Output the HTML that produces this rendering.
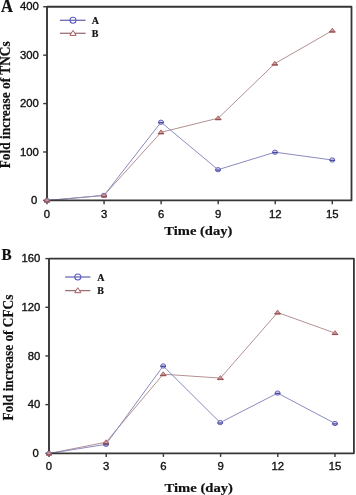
<!DOCTYPE html>
<html><head><meta charset="utf-8"><style>
html,body{margin:0;padding:0;background:#fff;width:356px;height:495px;overflow:hidden}
svg{display:block;filter:blur(0.3px)}
.tk{font-family:"Liberation Sans",sans-serif;font-size:11px;fill:#111;stroke:#111;stroke-width:0.35px}
.ttl{font-family:"Liberation Serif",serif;font-weight:bold;font-size:13.4px;fill:#111;stroke:#111;stroke-width:0.2px}
.pan{font-family:"Liberation Serif",serif;font-weight:bold;font-size:18px;fill:#111;stroke:#111;stroke-width:0.2px}
.lg{font-family:"Liberation Serif",serif;font-weight:bold;font-size:10px;fill:#111;stroke:#111;stroke-width:0.2px}
</style></head><body>
<svg width="356" height="495" viewBox="0 0 356 495">
<path d="M47 200.5 L104 195.4 L161 132.3 L218.2 118.2 L274.8 63.6 L332.3 30.6" fill="none" stroke="#b39092" stroke-width="1" stroke-linejoin="round"/>
<path d="M47 200.5 L104 195.4 L161 122.2 L218 169.7 L275 152.2 L332.3 160" fill="none" stroke="#8a8ac0" stroke-width="1" stroke-linejoin="round"/>
<path d="M47 6.75H351.5V200.4H47" fill="none" stroke="#363636" stroke-width="1.8" stroke-linejoin="round"/>
<path d="M47 6.25V200.9" stroke="#363636" stroke-width="1.9"/>
<path d="M43.2 200.4H47" stroke="#363636" stroke-width="1.4"/>
<text transform="translate(37.3 204) scale(1.03 1)" class="tk" text-anchor="end">0</text>
<path d="M43.2 151.99H47" stroke="#363636" stroke-width="1.4"/>
<text transform="translate(38.8 155.59) scale(1.03 1)" class="tk" text-anchor="end">100</text>
<path d="M43.2 103.58H47" stroke="#363636" stroke-width="1.4"/>
<text transform="translate(38.8 107.17) scale(1.03 1)" class="tk" text-anchor="end">200</text>
<path d="M43.2 55.16H47" stroke="#363636" stroke-width="1.4"/>
<text transform="translate(38.8 58.76) scale(1.03 1)" class="tk" text-anchor="end">300</text>
<path d="M43.2 6.75H47" stroke="#363636" stroke-width="1.4"/>
<text transform="translate(38.8 10.35) scale(1.03 1)" class="tk" text-anchor="end">400</text>
<path d="M47 200.4V204.2" stroke="#363636" stroke-width="1.4"/>
<text transform="translate(47 217.7) scale(1.03 1)" class="tk" text-anchor="middle">0</text>
<path d="M104.06 200.4V204.2" stroke="#363636" stroke-width="1.4"/>
<text transform="translate(104.06 217.7) scale(1.03 1)" class="tk" text-anchor="middle">3</text>
<path d="M161.12 200.4V204.2" stroke="#363636" stroke-width="1.4"/>
<text transform="translate(161.12 217.7) scale(1.03 1)" class="tk" text-anchor="middle">6</text>
<path d="M218.18 200.4V204.2" stroke="#363636" stroke-width="1.4"/>
<text transform="translate(218.18 217.7) scale(1.03 1)" class="tk" text-anchor="middle">9</text>
<path d="M275.24 200.4V204.2" stroke="#363636" stroke-width="1.4"/>
<text transform="translate(275.24 217.7) scale(1.03 1)" class="tk" text-anchor="middle">12</text>
<path d="M332.3 200.4V204.2" stroke="#363636" stroke-width="1.4"/>
<text transform="translate(332.3 217.7) scale(1.03 1)" class="tk" text-anchor="middle">15</text>
<text transform="translate(1 11.8) scale(0.92 1)" class="pan" style="font-size:18px">A</text>
<text transform="translate(9.8 168.3) rotate(-90)" class="ttl" style="font-size:14px" textLength="127" lengthAdjust="spacingAndGlyphs">Fold increase of TNCs</text>
<text x="164.3" y="234.6" class="ttl" textLength="68" lengthAdjust="spacingAndGlyphs">Time (day)</text>
<path d="M59.9 20.3H85.6" stroke="#6c6cb4" stroke-width="1.3"/>
<circle cx="73" cy="20.3" r="3" fill="none" stroke="#5c5cc4" stroke-width="1.1"/>
<path d="M59.9 33.3H85.6" stroke="#9a7276" stroke-width="1.3"/>
<path d="M73 30.4L76.1 35.4H69.9Z" fill="#fff" stroke="#a45a5e" stroke-width="1"/>
<text x="91.8" y="23.6" class="lg">A</text>
<text x="91.8" y="36.9" class="lg">B</text>
<ellipse cx="47" cy="200.5" rx="2.45" ry="2.15" fill="#d6d6ee" stroke="#6262b4" stroke-width="1"/>
<path d="M44.2 200.9H49.8" stroke="#4c4ca8" stroke-width="1.3"/>
<ellipse cx="104" cy="195.4" rx="2.45" ry="2.15" fill="#d6d6ee" stroke="#6262b4" stroke-width="1"/>
<path d="M101.2 195.8H106.8" stroke="#4c4ca8" stroke-width="1.3"/>
<ellipse cx="161" cy="122.2" rx="2.45" ry="2.15" fill="#d6d6ee" stroke="#6262b4" stroke-width="1"/>
<path d="M158.2 122.6H163.8" stroke="#4c4ca8" stroke-width="1.3"/>
<ellipse cx="218" cy="169.7" rx="2.45" ry="2.15" fill="#d6d6ee" stroke="#6262b4" stroke-width="1"/>
<path d="M215.2 170.1H220.8" stroke="#4c4ca8" stroke-width="1.3"/>
<ellipse cx="275" cy="152.2" rx="2.45" ry="2.15" fill="#d6d6ee" stroke="#6262b4" stroke-width="1"/>
<path d="M272.2 152.6H277.8" stroke="#4c4ca8" stroke-width="1.3"/>
<ellipse cx="332.3" cy="160" rx="2.45" ry="2.15" fill="#d6d6ee" stroke="#6262b4" stroke-width="1"/>
<path d="M329.5 160.4H335.1" stroke="#4c4ca8" stroke-width="1.3"/>
<path d="M47 198.1L49.9 202H44.1Z" fill="#cc9c9c" stroke="#ac6a6c" stroke-width="1" stroke-linejoin="round"/>
<path d="M44 201.8H50" stroke="#9a5052" stroke-width="1.2"/>
<path d="M104 193L106.9 196.9H101.1Z" fill="#cc9c9c" stroke="#ac6a6c" stroke-width="1" stroke-linejoin="round"/>
<path d="M101 196.7H107" stroke="#9a5052" stroke-width="1.2"/>
<path d="M161 129.9L163.9 133.8H158.1Z" fill="#cc9c9c" stroke="#ac6a6c" stroke-width="1" stroke-linejoin="round"/>
<path d="M158 133.6H164" stroke="#9a5052" stroke-width="1.2"/>
<path d="M218.2 115.8L221.1 119.7H215.3Z" fill="#cc9c9c" stroke="#ac6a6c" stroke-width="1" stroke-linejoin="round"/>
<path d="M215.2 119.5H221.2" stroke="#9a5052" stroke-width="1.2"/>
<path d="M274.8 61.2L277.7 65.1H271.9Z" fill="#cc9c9c" stroke="#ac6a6c" stroke-width="1" stroke-linejoin="round"/>
<path d="M271.8 64.9H277.8" stroke="#9a5052" stroke-width="1.2"/>
<path d="M332.3 28.2L335.2 32.1H329.4Z" fill="#cc9c9c" stroke="#ac6a6c" stroke-width="1" stroke-linejoin="round"/>
<path d="M329.3 31.9H335.3" stroke="#9a5052" stroke-width="1.2"/>
<path d="M49 453.5 L106 442.2 L163.2 374.2 L220.4 378.1 L277.6 312.5 L335 333.1" fill="none" stroke="#b39092" stroke-width="1" stroke-linejoin="round"/>
<path d="M49 453.5 L106 444.3 L163.2 366 L220.2 422.6 L277.6 393.1 L335 423.5" fill="none" stroke="#8a8ac0" stroke-width="1" stroke-linejoin="round"/>
<path d="M49 258.6H353.9V453.3H49" fill="none" stroke="#363636" stroke-width="1.8" stroke-linejoin="round"/>
<path d="M49 258.1V453.8" stroke="#363636" stroke-width="1.9"/>
<path d="M45.4 453.3H49" stroke="#363636" stroke-width="1.4"/>
<text transform="translate(38.9 456.9) scale(1.03 1)" class="tk" text-anchor="end">0</text>
<path d="M45.4 404.62H49" stroke="#363636" stroke-width="1.4"/>
<text transform="translate(40.4 408.23) scale(1.03 1)" class="tk" text-anchor="end">40</text>
<path d="M45.4 355.95H49" stroke="#363636" stroke-width="1.4"/>
<text transform="translate(40.4 359.55) scale(1.03 1)" class="tk" text-anchor="end">80</text>
<path d="M45.4 307.28H49" stroke="#363636" stroke-width="1.4"/>
<text transform="translate(40.4 310.88) scale(1.03 1)" class="tk" text-anchor="end">120</text>
<path d="M45.4 258.6H49" stroke="#363636" stroke-width="1.4"/>
<text transform="translate(40.4 262.2) scale(1.03 1)" class="tk" text-anchor="end">160</text>
<path d="M49 453.3V456.9" stroke="#363636" stroke-width="1.4"/>
<text transform="translate(49 470.3) scale(1.03 1)" class="tk" text-anchor="middle">0</text>
<path d="M106.2 453.3V456.9" stroke="#363636" stroke-width="1.4"/>
<text transform="translate(106.2 470.3) scale(1.03 1)" class="tk" text-anchor="middle">3</text>
<path d="M163.4 453.3V456.9" stroke="#363636" stroke-width="1.4"/>
<text transform="translate(163.4 470.3) scale(1.03 1)" class="tk" text-anchor="middle">6</text>
<path d="M220.6 453.3V456.9" stroke="#363636" stroke-width="1.4"/>
<text transform="translate(220.6 470.3) scale(1.03 1)" class="tk" text-anchor="middle">9</text>
<path d="M277.8 453.3V456.9" stroke="#363636" stroke-width="1.4"/>
<text transform="translate(277.8 470.3) scale(1.03 1)" class="tk" text-anchor="middle">12</text>
<path d="M335 453.3V456.9" stroke="#363636" stroke-width="1.4"/>
<text transform="translate(335 470.3) scale(1.03 1)" class="tk" text-anchor="middle">15</text>
<text transform="translate(1.6 259.8) scale(0.92 1)" class="pan" style="font-size:16.5px">B</text>
<text transform="translate(12.9 420.6) rotate(-90)" class="ttl" style="font-size:14.6px" textLength="126" lengthAdjust="spacingAndGlyphs">Fold increase of CFCs</text>
<text x="164.5" y="491.9" class="ttl" textLength="68.5" lengthAdjust="spacingAndGlyphs">Time (day)</text>
<path d="M65.1 277H90.4" stroke="#6c6cb4" stroke-width="1.3"/>
<circle cx="77.8" cy="277" r="3" fill="none" stroke="#5c5cc4" stroke-width="1.1"/>
<path d="M65.1 290.6H90.4" stroke="#9a7276" stroke-width="1.3"/>
<path d="M77.8 287.7L80.9 292.7H74.7Z" fill="#fff" stroke="#a45a5e" stroke-width="1"/>
<text x="97.3" y="280.8" class="lg">A</text>
<text x="97.3" y="293.7" class="lg">B</text>
<ellipse cx="49" cy="453.5" rx="2.45" ry="2.15" fill="#d6d6ee" stroke="#6262b4" stroke-width="1"/>
<path d="M46.2 453.9H51.8" stroke="#4c4ca8" stroke-width="1.3"/>
<ellipse cx="106" cy="444.3" rx="2.45" ry="2.15" fill="#d6d6ee" stroke="#6262b4" stroke-width="1"/>
<path d="M103.2 444.7H108.8" stroke="#4c4ca8" stroke-width="1.3"/>
<ellipse cx="163.2" cy="366" rx="2.45" ry="2.15" fill="#d6d6ee" stroke="#6262b4" stroke-width="1"/>
<path d="M160.4 366.4H166" stroke="#4c4ca8" stroke-width="1.3"/>
<ellipse cx="220.2" cy="422.6" rx="2.45" ry="2.15" fill="#d6d6ee" stroke="#6262b4" stroke-width="1"/>
<path d="M217.4 423H223" stroke="#4c4ca8" stroke-width="1.3"/>
<ellipse cx="277.6" cy="393.1" rx="2.45" ry="2.15" fill="#d6d6ee" stroke="#6262b4" stroke-width="1"/>
<path d="M274.8 393.5H280.4" stroke="#4c4ca8" stroke-width="1.3"/>
<ellipse cx="335" cy="423.5" rx="2.45" ry="2.15" fill="#d6d6ee" stroke="#6262b4" stroke-width="1"/>
<path d="M332.2 423.9H337.8" stroke="#4c4ca8" stroke-width="1.3"/>
<path d="M49 451.1L51.9 455H46.1Z" fill="#cc9c9c" stroke="#ac6a6c" stroke-width="1" stroke-linejoin="round"/>
<path d="M46 454.8H52" stroke="#9a5052" stroke-width="1.2"/>
<path d="M106 439.8L108.9 443.7H103.1Z" fill="#cc9c9c" stroke="#ac6a6c" stroke-width="1" stroke-linejoin="round"/>
<path d="M103 443.5H109" stroke="#9a5052" stroke-width="1.2"/>
<path d="M163.2 371.8L166.1 375.7H160.3Z" fill="#cc9c9c" stroke="#ac6a6c" stroke-width="1" stroke-linejoin="round"/>
<path d="M160.2 375.5H166.2" stroke="#9a5052" stroke-width="1.2"/>
<path d="M220.4 375.7L223.3 379.6H217.5Z" fill="#cc9c9c" stroke="#ac6a6c" stroke-width="1" stroke-linejoin="round"/>
<path d="M217.4 379.4H223.4" stroke="#9a5052" stroke-width="1.2"/>
<path d="M277.6 310.1L280.5 314H274.7Z" fill="#cc9c9c" stroke="#ac6a6c" stroke-width="1" stroke-linejoin="round"/>
<path d="M274.6 313.8H280.6" stroke="#9a5052" stroke-width="1.2"/>
<path d="M335 330.7L337.9 334.6H332.1Z" fill="#cc9c9c" stroke="#ac6a6c" stroke-width="1" stroke-linejoin="round"/>
<path d="M332 334.4H338" stroke="#9a5052" stroke-width="1.2"/>
</svg>
</body></html>
